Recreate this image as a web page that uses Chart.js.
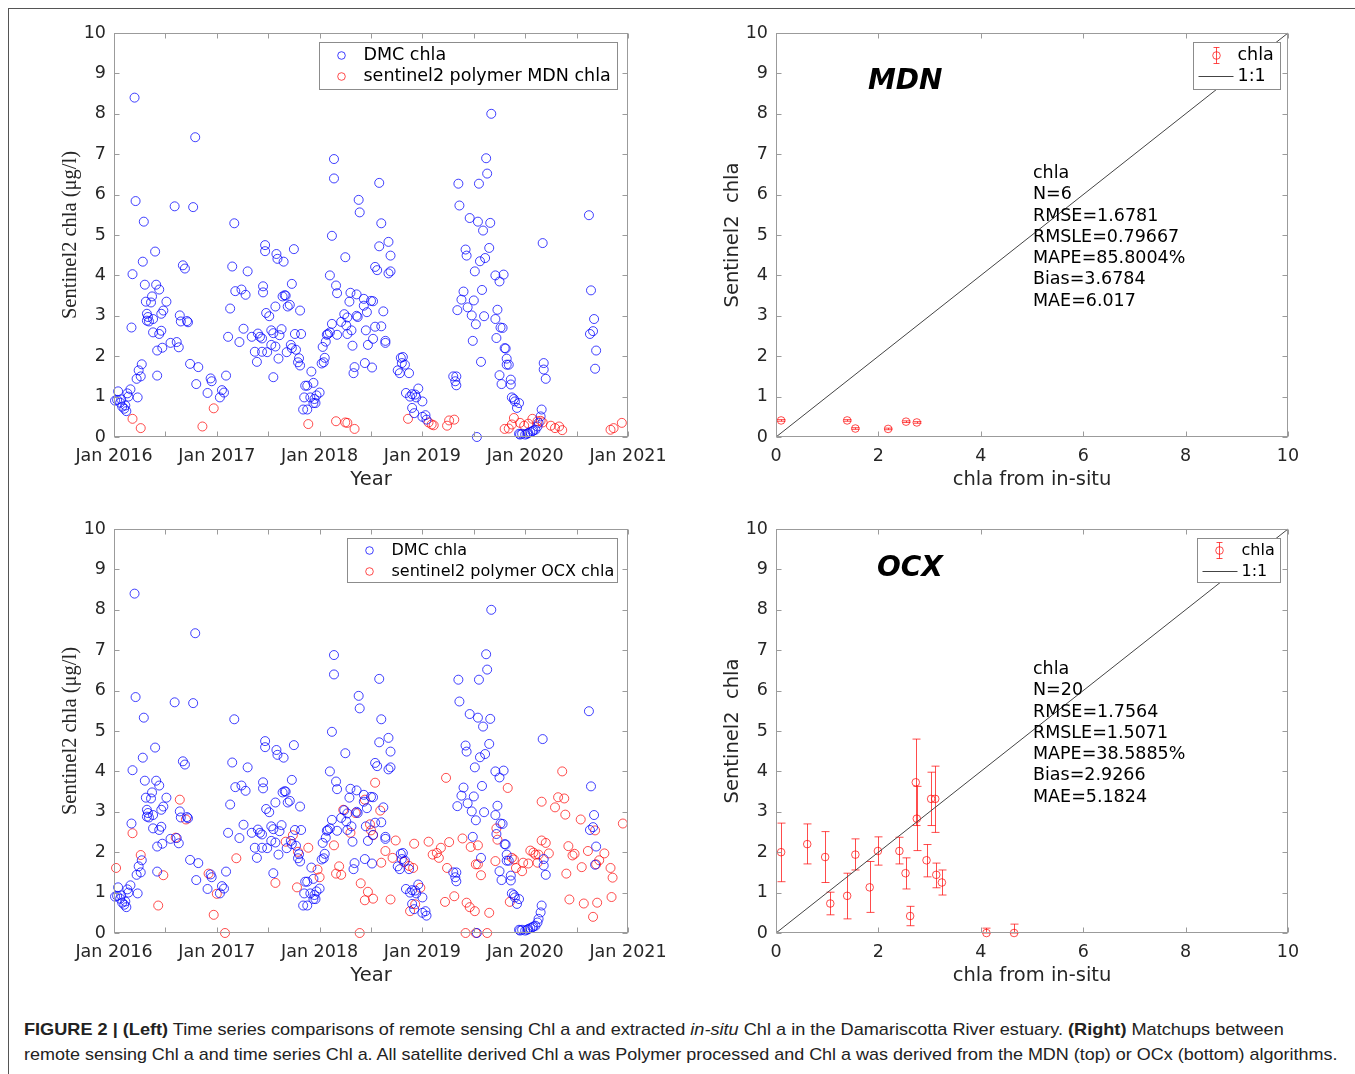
<!DOCTYPE html>
<html lang="en">
<head>
<meta charset="UTF-8">
<title>Figure 2 - chla time series and matchups</title>
<script src="https://cdn.jsdelivr.net/npm/chart.js"></script>
<style>
  body { margin: 0; width: 1355px; height: 1074px; position: relative; background: #fff; overflow: hidden; font-family: 'DejaVu Sans', sans-serif; }
  .frame-top { position: absolute; left: 8px; top: 8px; width: 1347px; height: 1px; background: #555; }
  .frame-left { position: absolute; left: 8px; top: 8px; width: 1px; height: 1066px; background: #555; }
  canvas { position: absolute; }
  .algo { position: absolute; font: italic bold 28px 'DejaVu Sans', sans-serif; line-height: 34px; color: #000; }
  .stats { position: absolute; font-size: 17.5px; line-height: 21.3px; color: #000; white-space: pre; }
  .caption { position: absolute; left: 24px; font-family: 'Liberation Sans Narrow', 'Liberation Sans', sans-serif; font-size: 17px; line-height: 25px; color: #222; white-space: nowrap; transform-origin: 0 50%; }
</style>
</head>
<body>
  <div class="frame-top"></div>
  <div class="frame-left"></div>

  <canvas id="seriesMDN" width="640" height="480" style="left:40px; top:20px;"></canvas>
  <canvas id="matchMDN" width="640" height="480" style="left:700px; top:20px;"></canvas>
  <canvas id="seriesOCX" width="640" height="480" style="left:40px; top:516px;"></canvas>
  <canvas id="matchOCX" width="640" height="480" style="left:700px; top:516px;"></canvas>

  <div class="algo" style="left:868px; top:63px;">MDN</div>
  <div class="algo" style="left:877px; top:550px;">OCX</div>
  <div class="stats" id="statsMDN" style="left:1033px; top:162px;"></div>
  <div class="stats" id="statsOCX" style="left:1033px; top:658px;"></div>

  <div class="caption" data-width="1260" style="top:1017px;"><b>FIGURE 2 | (Left)</b> Time series comparisons of remote sensing Chl a and extracted <i>in-situ</i> Chl a in the Damariscotta River estuary. <b>(Right)</b> Matchups between</div>
  <div class="caption" data-width="1313" style="top:1042px;">remote sensing Chl a and time series Chl a. All satellite derived Chl a was Polymer processed and Chl a was derived from the MDN (top) or OCx (bottom) algorithms.</div>

<script>
// DMC in-situ chla (decimal year, value)
const dmcYear = [
  2016.01, 2016.03, 2016.04, 2016.06, 2016.07, 2016.08, 2016.10, 2016.11, 2016.12, 2016.13, 2016.14, 2016.16,
  2016.17, 2016.18, 2016.20, 2016.21, 2016.22, 2016.23, 2016.24, 2016.26, 2016.27, 2016.28, 2016.29, 2016.30,
  2016.31, 2016.32, 2016.32, 2016.33, 2016.34, 2016.36, 2016.37, 2016.38, 2016.38, 2016.40, 2016.41, 2016.42,
  2016.42, 2016.44, 2016.44, 2016.46, 2016.46, 2016.47, 2016.48, 2016.51, 2016.55, 2016.59, 2016.61, 2016.63,
  2016.64, 2016.65, 2016.67, 2016.69, 2016.71, 2016.72, 2016.74, 2016.77, 2016.79, 2016.80, 2016.82, 2016.91,
  2016.94, 2016.95, 2017.03, 2017.05, 2017.07, 2017.09, 2017.11, 2017.13, 2017.15, 2017.17, 2017.18, 2017.22,
  2017.24, 2017.26, 2017.28, 2017.30, 2017.34, 2017.37, 2017.39, 2017.40, 2017.42, 2017.44, 2017.44, 2017.45,
  2017.45, 2017.47, 2017.47, 2017.48, 2017.49, 2017.51, 2017.53, 2017.53, 2017.55, 2017.55, 2017.57, 2017.57,
  2017.58, 2017.59, 2017.60, 2017.61, 2017.63, 2017.64, 2017.65, 2017.66, 2017.67, 2017.68, 2017.69, 2017.71,
  2017.72, 2017.73, 2017.73, 2017.75, 2017.76, 2017.77, 2017.79, 2017.80, 2017.81, 2017.81, 2017.82, 2017.84,
  2017.85, 2017.86, 2017.88, 2017.88, 2017.91, 2017.92, 2017.94, 2017.94, 2017.95, 2017.96, 2017.97, 2018.00,
  2018.02, 2018.03, 2018.04, 2018.05, 2018.06, 2018.07, 2018.08, 2018.10, 2018.10, 2018.12, 2018.12, 2018.14,
  2018.14, 2018.16, 2018.17, 2018.17, 2018.21, 2018.24, 2018.25, 2018.26, 2018.27, 2018.27, 2018.29, 2018.30,
  2018.31, 2018.32, 2018.33, 2018.34, 2018.36, 2018.36, 2018.37, 2018.38, 2018.39,
  2018.43, 2018.43, 2018.44, 2018.45, 2018.46, 2018.47, 2018.50, 2018.51, 2018.52, 2018.52, 2018.54, 2018.54,
  2018.56, 2018.58, 2018.58, 2018.60, 2018.60, 2018.62, 2018.64, 2018.64, 2018.67, 2018.67, 2018.69, 2018.69,
  2018.76, 2018.78, 2018.79, 2018.80, 2018.81, 2018.83, 2018.84, 2018.87, 2018.88, 2018.90, 2018.90, 2018.92,
  2018.93, 2018.94, 2018.96, 2019.00, 2019.00, 2019.03, 2019.04, 2019.30, 2019.32, 2019.33, 2019.33, 2019.34,
  2019.35, 2019.36, 2019.38, 2019.40, 2019.42, 2019.43, 2019.44, 2019.46, 2019.48, 2019.49, 2019.50, 2019.51,
  2019.52, 2019.53, 2019.54, 2019.55, 2019.56, 2019.57, 2019.58, 2019.59, 2019.60, 2019.61, 2019.62, 2019.63,
  2019.65, 2019.66, 2019.67, 2019.71, 2019.71, 2019.72, 2019.73, 2019.75, 2019.75, 2019.76, 2019.77, 2019.78,
  2019.79, 2019.80, 2019.81, 2019.82, 2019.82, 2019.84, 2019.86, 2019.86, 2019.87, 2019.89, 2019.90, 2019.92,
  2019.94, 2019.94, 2019.95, 2019.97, 2020.00, 2020.02, 2020.03, 2020.05, 2020.07, 2020.08, 2020.10, 2020.12,
  2020.13, 2020.15, 2020.16, 2020.17, 2020.18, 2020.18, 2020.20, 2020.62, 2020.63, 2020.64, 2020.66, 2020.67,
  2020.68, 2020.69
];
const dmcChla = [
  0.90, 0.92, 1.13, 0.85, 0.93, 0.75, 0.70, 0.78, 0.64, 1.08, 1.00, 1.18,
  2.71, 4.03, 8.40, 5.84, 1.44, 0.98, 1.65, 1.50, 1.80, 4.34, 5.33, 3.77,
  3.35, 3.05, 2.88, 2.97, 2.86, 3.33, 3.48, 2.92, 2.59, 4.59, 3.77, 1.52,
  2.14, 2.55, 3.65, 2.63, 3.05, 2.21, 3.13, 3.35, 2.33, 5.71, 2.35, 2.22,
  3.01, 2.86, 4.25, 4.17, 2.87, 2.84, 1.81, 5.69, 7.42, 1.31, 1.73, 1.09,
  1.45, 1.38, 0.98, 1.16, 1.10, 1.52, 2.48, 3.18, 4.22, 5.29, 3.61, 2.35,
  3.65, 2.68, 3.52, 4.10, 2.48, 2.11, 1.86, 2.56, 2.48, 2.11, 2.44, 3.58,
  3.73, 4.75, 4.60, 3.07, 2.10, 2.99, 2.64, 2.28, 1.48, 2.57, 2.24, 3.23,
  4.53, 4.41, 1.94, 2.52, 2.67, 3.48, 4.34, 3.51, 3.50, 2.10, 3.23, 3.27,
  2.28, 2.20, 3.79, 4.65, 2.55, 2.16, 1.85, 1.95, 1.77, 3.13, 2.55, 0.68,
  0.98, 1.27, 0.68, 1.27, 0.98, 1.62, 0.84, 1.34, 0.94, 0.84, 1.03, 1.10,
  1.82, 2.23, 1.85, 1.96, 2.36, 2.53, 2.55, 4.00, 2.59, 2.80, 4.98, 6.88,
  6.40, 3.75, 2.53, 3.56, 2.85, 3.04, 4.45, 2.76, 2.96, 2.55, 3.35, 3.57,
  2.64, 2.26, 1.58, 1.73, 3.53, 3.00, 2.97, 5.87, 5.56,
  3.42, 3.25, 1.83, 2.64, 3.09, 2.28, 3.37, 1.72, 3.36, 2.43, 2.73, 4.21,
  4.13, 4.72, 6.29, 2.74, 5.29, 3.11, 2.38, 2.33, 4.83, 4.05, 4.10, 4.49,
  1.65, 1.58, 1.96, 1.83, 1.98, 1.79, 1.09, 1.58, 1.00, 0.72, 1.06, 0.59,
  1.05, 0.98, 1.20, 0.88, 0.50, 0.54, 0.43, 1.50, 1.38, 1.50, 1.28, 3.14,
  6.27, 5.73, 3.40, 3.60, 4.64, 4.49, 3.21, 5.42, 3.01, 2.38, 3.38, 4.10,
  2.79, 0.00, 5.33, 6.27, 4.35, 1.86, 3.64, 5.11, 2.99, 4.43, 6.90, 6.52,
  4.68, 5.30, 8.00, 2.92, 4.00, 2.45, 3.15, 3.85, 1.53, 2.71, 1.31, 2.70,
  4.02, 2.20, 2.19, 1.94, 1.79, 1.79, 1.42, 1.30, 0.98, 0.94, 0.88, 0.72,
  0.84, 0.08, 0.06, 0.08, 0.06, 0.08, 0.10, 0.12, 0.14, 0.16, 0.18, 0.26,
  0.35, 0.51, 0.68, 4.80, 1.83, 1.67, 1.44, 5.49, 2.55, 3.63, 2.62, 2.92,
  1.69, 2.14
];

// sentinel2 polymer MDN chla
const mdnYear = [
  2016.18, 2016.26, 2016.86, 2016.97, 2017.89, 2018.16, 2018.25, 2018.27, 2018.34, 2018.86, 2019.06, 2019.09,
  2019.11, 2019.24, 2019.26, 2019.31, 2019.80, 2019.84, 2019.87, 2019.89, 2019.95, 2019.99, 2020.03, 2020.07,
  2020.12, 2020.15, 2020.17, 2020.25, 2020.29, 2020.33, 2020.36, 2020.83, 2020.86, 2020.94
];
const mdnChla = [
  0.45, 0.22, 0.26, 0.71, 0.32, 0.39, 0.36, 0.35, 0.20, 0.45, 0.36, 0.31,
  0.29, 0.28, 0.41, 0.43, 0.20, 0.21, 0.31, 0.47, 0.35, 0.28, 0.33, 0.45,
  0.39, 0.40, 0.36, 0.28, 0.22, 0.26, 0.17, 0.18, 0.22, 0.35
];

// sentinel2 polymer OCX chla
const ocxYear = [
  2016.02, 2016.18, 2016.26, 2016.43, 2016.48, 2016.60, 2016.64, 2016.70, 2016.92, 2016.97, 2017.00, 2017.08,
  2017.19, 2017.57, 2017.67, 2017.74, 2017.78, 2017.79, 2017.89, 2017.98, 2018.00, 2018.14, 2018.16, 2018.19,
  2018.21, 2018.23, 2018.30, 2018.35, 2018.39, 2018.40, 2018.44, 2018.44, 2018.47, 2018.49, 2018.50, 2018.52,
  2018.52, 2018.54, 2018.59, 2018.60, 2018.64, 2018.69, 2018.71, 2018.74, 2018.82, 2018.87, 2018.88, 2018.91,
  2018.92, 2018.93, 2018.98, 2019.06, 2019.10, 2019.14, 2019.16, 2019.18, 2019.22, 2019.23, 2019.24, 2019.26,
  2019.31, 2019.39, 2019.42, 2019.43, 2019.46, 2019.47, 2019.51, 2019.52, 2019.52, 2019.54, 2019.54, 2019.57,
  2019.63, 2019.65, 2019.71, 2019.72, 2019.73, 2019.83, 2019.85, 2019.87, 2019.89, 2019.91, 2019.97, 2019.98,
  2020.03, 2020.05, 2020.08, 2020.10, 2020.12, 2020.13, 2020.16, 2020.16, 2020.20, 2020.23, 2020.29, 2020.32,
  2020.36, 2020.38, 2020.39, 2020.40, 2020.42, 2020.43, 2020.46, 2020.48, 2020.54, 2020.55, 2020.57, 2020.61,
  2020.66, 2020.68, 2020.69, 2020.70, 2020.72, 2020.77, 2020.83, 2020.84, 2020.85, 2020.95
];
const ocxChla = [
  1.61, 2.47, 1.93, 0.68, 1.43, 2.36, 3.30, 2.81, 1.47, 0.45, 0.97, 0.00,
  1.85, 1.24, 2.26, 2.42, 1.13, 2.01, 2.11, 1.57, 1.38, 2.17, 1.47, 1.65,
  1.44, 3.05, 2.48, 2.97, 0.00, 1.23, 0.81, 3.30, 1.02, 2.69, 2.54, 2.42,
  0.85, 3.72, 3.03, 1.74, 2.03, 0.83, 1.86, 2.29, 1.76, 1.66, 0.54, 1.61,
  2.21, 0.71, 1.12, 2.26, 1.94, 1.98, 1.86, 2.11, 0.77, 3.84, 1.61, 2.25,
  0.91, 2.34, 0.00, 0.75, 0.64, 2.13, 0.54, 1.70, 0.00, 1.70, 2.17, 1.43,
  0.00, 0.50, 1.78, 2.59, 2.31, 3.59, 0.77, 1.86, 1.82, 1.61, 1.53, 1.74,
  1.72, 2.04, 1.99, 1.94, 1.74, 1.94, 3.25, 2.29, 2.23, 1.97, 3.11, 3.36,
  4.00, 3.33, 2.93, 1.47, 2.15, 0.83, 1.92, 1.96, 2.81, 1.63, 0.73, 2.03,
  0.40, 2.54, 1.70, 0.75, 1.80, 1.97, 1.61, 0.89, 1.37, 2.71
];

// matchups: in-situ vs satellite, with error bar bounds
const mdnInsitu = [0.10, 1.39, 1.55, 2.19, 2.54, 2.75];
const mdnSat = [0.41, 0.41, 0.21, 0.20, 0.38, 0.36];
const mdnLow = [0.39, 0.39, 0.19, 0.18, 0.36, 0.34];
const mdnHigh = [0.43, 0.43, 0.23, 0.22, 0.40, 0.38];

const ocxInsitu = [0.10, 0.61, 0.96, 1.06, 1.39, 1.55, 1.83, 1.99, 2.41, 2.53, 2.62, 2.73, 2.75, 2.94, 3.03, 3.11, 3.13, 3.24, 4.11, 4.65];
const ocxSat = [2.00, 2.20, 1.88, 0.73, 0.92, 1.94, 1.13, 2.03, 2.03, 1.48, 0.42, 3.73, 2.83, 1.80, 3.32, 3.32, 1.44, 1.25, 0.00, 0.00];
const ocxLow = [1.27, 1.71, 1.25, 0.45, 0.35, 1.56, 0.51, 1.68, 1.71, 1.09, 0.18, 2.66, 2.04, 1.39, 2.66, 2.49, 1.12, 0.94, 0.00, 0.00];
const ocxHigh = [2.72, 2.70, 2.51, 1.01, 1.48, 2.33, 1.77, 2.38, 2.37, 1.86, 0.66, 4.80, 3.63, 2.19, 3.98, 4.13, 1.73, 1.56, 0.12, 0.22];

const statsMDN = ['chla', 'N=6', 'RMSE=1.6781', 'RMSLE=0.79667', 'MAPE=85.8004%', 'Bias=3.6784', 'MAE=6.017'];
const statsOCX = ['chla', 'N=20', 'RMSE=1.7564', 'RMSLE=1.5071', 'MAPE=38.5885%', 'Bias=2.9266', 'MAE=5.1824'];

const BLUE = 'rgba(0, 0, 255, 0.75)';
const RED = 'rgba(255, 0, 0, 0.7)';
const AXIS_GREY = '#9b9b9b';
const TEXT = '#262626';

// box around the axes with inward tick marks (matlab style)
const boxAxes = {
  id: 'boxAxes',
  afterDatasetsDraw(chart) {
    const {ctx, chartArea: a, scales: {x, y}} = chart;
    const L = Math.round(a.left) + 0.5, R = Math.round(a.right) - 0.5;
    const T = Math.round(a.top) + 0.5, B = Math.round(a.bottom) - 0.5;
    ctx.save();
    ctx.strokeStyle = AXIS_GREY;
    ctx.lineWidth = 1;
    ctx.beginPath();
    x.ticks.forEach(t => {
      const px = Math.round(x.getPixelForValue(t.value)) + 0.5;
      ctx.moveTo(px, B); ctx.lineTo(px, B - 5);
      ctx.moveTo(px, T); ctx.lineTo(px, T + 5);
    });
    y.ticks.forEach(t => {
      const py = Math.round(y.getPixelForValue(t.value)) + 0.5;
      ctx.moveTo(L, py); ctx.lineTo(L + 5, py);
      ctx.moveTo(R, py); ctx.lineTo(R - 5, py);
    });
    ctx.stroke();
    ctx.strokeRect(L, T, R - L, B - T);
    ctx.restore();
  }
};

// vertical error bars for datasets that carry errLow / errHigh
const errorBars = {
  id: 'errorBars',
  beforeDatasetsDraw(chart) {
    const {ctx, scales: {x, y}} = chart;
    chart.data.datasets.forEach(ds => {
      if (!ds.errLow) return;
      ctx.save();
      ctx.strokeStyle = ds.borderColor;
      ctx.lineWidth = 1;
      ds.data.forEach((p, i) => {
        const px = Math.round(x.getPixelForValue(p.x)) + 0.5;
        const y0 = y.getPixelForValue(ds.errLow[i]);
        const y1 = y.getPixelForValue(ds.errHigh[i]);
        ctx.beginPath();
        ctx.moveTo(px, y0); ctx.lineTo(px, y1);
        ctx.moveTo(px - 4, y0); ctx.lineTo(px + 4, y0);
        ctx.moveTo(px - 4, y1); ctx.lineTo(px + 4, y1);
        ctx.stroke();
      });
      ctx.restore();
    });
  }
};

// legend box inside the axes, top right
const boxLegend = {
  id: 'boxLegend',
  afterDraw(chart, args, o) {
    if (!o.items) return;
    const {ctx, chartArea: a} = chart;
    const x0 = Math.round(a.right - o.right - o.width) + 0.5;
    const y0 = Math.round(a.top + o.top) + 0.5;
    ctx.save();
    ctx.fillStyle = '#fff';
    ctx.fillRect(x0, y0, o.width, o.height);
    ctx.strokeStyle = '#8c8c8c';
    ctx.lineWidth = 1;
    ctx.strokeRect(x0, y0, o.width, o.height);
    ctx.font = o.fontSize + 'px "DejaVu Sans"';
    ctx.textBaseline = 'middle';
    ctx.textAlign = 'left';
    o.items.forEach((it, i) => {
      const cy = y0 + o.rows[i];
      const mx = x0 + o.markerX;
      ctx.strokeStyle = it.color;
      ctx.beginPath();
      if (it.kind === 'line') {
        ctx.moveTo(x0 + 5, cy); ctx.lineTo(x0 + 40, cy);
      } else {
        ctx.arc(mx, cy, 3.8, 0, Math.PI * 2);
        if (it.kind === 'err') {
          ctx.moveTo(mx, cy - 8); ctx.lineTo(mx, cy + 8);
          ctx.moveTo(mx - 3, cy - 8); ctx.lineTo(mx + 3, cy - 8);
          ctx.moveTo(mx - 3, cy + 8); ctx.lineTo(mx + 3, cy + 8);
        }
      }
      ctx.stroke();
      ctx.fillStyle = '#000';
      ctx.fillText(it.text, x0 + o.textX, cy);
    });
    ctx.restore();
  }
};

function tickFont(size) {
  return {family: 'DejaVu Sans', size: size};
}

function pts(xs, ys) {
  return xs.map((v, i) => ({x: v, y: ys[i]}));
}

function baseScales(xCfg, yTitle, yTitleFont, yTitlePad, yWidth) {
  return {
    x: Object.assign({
      type: 'linear',
      grid: {display: false, drawTicks: false},
      border: {display: false},
      afterFit: s => { s.height = 63; s.paddingLeft = 0; s.paddingRight = 0; }
    }, xCfg),
    y: {
      type: 'linear', min: 0, max: 10,
      grid: {display: false, drawTicks: false},
      border: {display: false},
      ticks: {stepSize: 1, padding: 8, color: TEXT, font: tickFont(17.5)},
      title: {display: true, text: yTitle, color: TEXT, font: yTitleFont, padding: {top: yTitlePad, bottom: 0}},
      // keep the plot box exactly where the layout padding puts it
      afterFit: s => { s.width = yWidth; s.paddingTop = 0; s.paddingBottom = 0; }
    }
  };
}

function seriesChart(id, redYear, redChla, redLabel, legend) {
  new Chart(document.getElementById(id), {
    type: 'scatter',
    data: {
      datasets: [
        {label: 'DMC chla', data: pts(dmcYear, dmcChla), borderColor: BLUE, backgroundColor: 'transparent',
         pointRadius: 4.5, pointBorderWidth: 1, clip: false},
        {label: redLabel, data: pts(redYear, redChla), borderColor: RED, backgroundColor: 'transparent',
         pointRadius: 4.5, pointBorderWidth: 1, clip: false}
      ]
    },
    options: {
      responsive: false,
      animation: false,
      events: [],
      layout: {padding: {top: 13, right: 52, bottom: 0, left: 0}},
      plugins: {legend: {display: false}, tooltip: {enabled: false}, boxLegend: legend},
      scales: baseScales({
        min: 2016, max: 2021,
        ticks: {stepSize: 0.5, autoSkip: false, maxRotation: 0, padding: 9, color: TEXT, font: tickFont(17.5),
                callback: v => Number.isInteger(v) ? 'Jan ' + v : ''},
        title: {display: true, text: 'Year', color: TEXT, font: tickFont(19.5), padding: {top: 0, bottom: 8}}
      }, 'Sentinel2 chla (\u03bcg/l)', {family: 'Liberation Serif', size: 20.5}, 18, 74)
    },
    plugins: [errorBars, boxAxes, boxLegend]
  });
}

function matchChart(id, insitu, sat, low, high, legend) {
  new Chart(document.getElementById(id), {
    type: 'scatter',
    data: {
      datasets: [
        {label: '1:1', data: [{x: 0, y: 0}, {x: 10, y: 10}], showLine: true, borderColor: '#444',
         borderWidth: 1, pointRadius: 0, clip: false},
        {label: 'chla', data: pts(insitu, sat), errLow: low, errHigh: high, borderColor: RED,
         backgroundColor: 'transparent', pointRadius: 3.8, pointBorderWidth: 1, clip: false}
      ]
    },
    options: {
      responsive: false,
      animation: false,
      events: [],
      layout: {padding: {top: 13, right: 52, bottom: 0, left: 0}},
      plugins: {legend: {display: false}, tooltip: {enabled: false}, boxLegend: legend},
      scales: baseScales({
        min: 0, max: 10,
        ticks: {stepSize: 2, autoSkip: false, maxRotation: 0, padding: 9, color: TEXT, font: tickFont(17.5)},
        title: {display: true, text: 'chla from in-situ', color: TEXT, font: tickFont(19.5), padding: {top: 0, bottom: 8}}
      }, 'Sentinel2  chla', tickFont(19.5), 21, 76)
    },
    plugins: [errorBars, boxAxes, boxLegend]
  });
}

seriesChart('seriesMDN', mdnYear, mdnChla, 'sentinel2 polymer MDN chla', {
  right: 11, top: 9, width: 298, height: 47, rows: [13, 34], markerX: 22, textX: 44, fontSize: 17.5,
  items: [{kind: 'circle', color: BLUE, text: 'DMC chla'}, {kind: 'circle', color: RED, text: 'sentinel2 polymer MDN chla'}]
});
seriesChart('seriesOCX', ocxYear, ocxChla, 'sentinel2 polymer OCX chla', {
  right: 11, top: 9, width: 270, height: 44, rows: [12, 33], markerX: 22, textX: 44, fontSize: 16,
  items: [{kind: 'circle', color: BLUE, text: 'DMC chla'}, {kind: 'circle', color: RED, text: 'sentinel2 polymer OCX chla'}]
});
matchChart('matchMDN', mdnInsitu, mdnSat, mdnLow, mdnHigh, {
  right: 8, top: 9, width: 87, height: 47, rows: [13, 34], markerX: 23, textX: 44, fontSize: 17.5,
  items: [{kind: 'err', color: RED, text: 'chla'}, {kind: 'line', color: '#444', text: '1:1'}]
});
matchChart('matchOCX', ocxInsitu, ocxSat, ocxLow, ocxHigh, {
  right: 8, top: 9, width: 83, height: 44, rows: [12, 33], markerX: 22, textX: 44, fontSize: 16,
  items: [{kind: 'err', color: RED, text: 'chla'}, {kind: 'line', color: '#444', text: '1:1'}]
});

document.getElementById('statsMDN').textContent = statsMDN.join('\n');
document.getElementById('statsOCX').textContent = statsOCX.join('\n');

// squeeze caption lines to the measured line widths
document.querySelectorAll('.caption').forEach(el => {
  el.style.transform = 'scaleX(' + (Number(el.dataset.width) / el.scrollWidth) + ')';
});
</script>
</body>
</html>
